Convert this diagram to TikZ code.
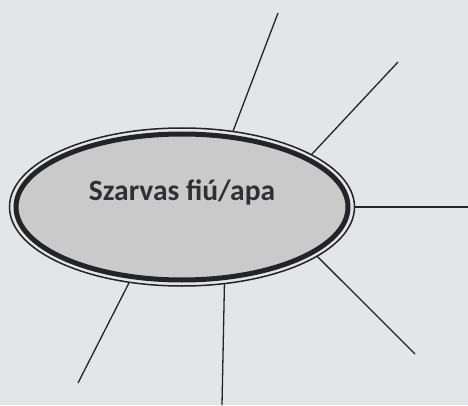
\documentclass[tikz,border=0pt]{standalone}
\usepackage{fontspec}
\setmainfont{Carlito}
\usetikzlibrary{shapes.geometric}
\definecolor{bgcol}{RGB}{228,229,233}
\definecolor{fillcol}{RGB}{202,202,203}
\definecolor{ink}{RGB}{36,36,38}
\definecolor{txtcol}{RGB}{48,48,50}
\tikzset{
  outerring/.style={ellipse, draw=ink, line width=1.5pt, inner sep=0pt, outer sep=0pt,
    minimum width=345pt, minimum height=158pt},
  innerring/.style={ellipse, draw=ink, fill=fillcol, line width=5pt, inner sep=0pt, outer sep=0pt,
    minimum width=332pt, minimum height=146pt},
  ray/.style={draw=ink, line width=1.3pt},
  label/.style={font=\bfseries\fontsize{29.5}{34}\selectfont, text=txtcol, inner sep=0pt}
}
\begin{document}
\begin{tikzpicture}[x=1pt,y=1pt]
\fill[bgcol] (0,0) rectangle (468,405);
\useasboundingbox (0,0) rectangle (468,405);
\node[outerring] (e) at (182,198) {};
\node[innerring] (ei) at (182,198) {};
\node[label] (t) at (182,213) {Szarvas fiú/apa};
\coordinate (r1) at (278,392);
\coordinate (r2) at (398,343);
\coordinate (r3) at (468,198);
\coordinate (r4) at (415,51);
\coordinate (r5) at (222,0);
\coordinate (r6) at (78,22);
\draw[ray] (e.56.7) -- (r1);
\draw[ray] (e.22.8) -- (r2);
\draw[ray] (e.0) -- (r3);
\draw[ray] (e.-20.7) -- (r4);
\draw[ray] (e.-61.9) -- (r5);
\draw[ray] (e.-125.5) -- (r6);
\end{tikzpicture}
\end{document}
